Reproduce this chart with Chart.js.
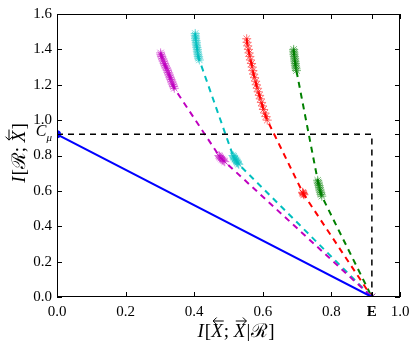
<!DOCTYPE html>
<html lang="en">
<head>
  <meta charset="UTF-8" />
  <title>I[R;X] vs I[X;X|R]</title>
  <style>
    body { margin: 0; background: #fff; }
    #wrap { width: 416px; height: 350px; }
  </style>
</head>
<body>
  <div id="wrap"><canvas id="chart"></canvas></div>

  <script src="https://cdn.jsdelivr.net/npm/chart.js"></script>
  <script>
    // special values
    const cMu = 0.92;
    const eVal = 0.918;

    // tick positions
    const xTicks = [0, 0.2, 0.4, 0.6, 0.8, eVal, 1.0];
    const yTicks = [0, 0.2, 0.4, 0.6, 0.8, cMu, 1.0, 1.2, 1.4, 1.6];

    // magenta series
    const magentaX = [0.302, 0.303, 0.305, 0.307, 0.309, 0.311, 0.313, 0.315, 0.317, 0.320, 0.322, 0.324, 0.326, 0.328, 0.330, 0.332, 0.334, 0.336, 0.338, 0.340, 0.342,
                      0.472, 0.474, 0.476, 0.478, 0.481, 0.483, 0.486, 0.489, 0.918];
    const magentaY = [1.38, 1.37, 1.36, 1.35, 1.34, 1.33, 1.32, 1.31, 1.30, 1.29, 1.28, 1.27, 1.26, 1.25, 1.24, 1.23, 1.22, 1.21, 1.20, 1.19, 1.18,
                      0.80, 0.795, 0.79, 0.785, 0.78, 0.775, 0.77, 0.765, 0];

    // cyan series
    const cyanX = [0.403, 0.403, 0.404, 0.404, 0.405, 0.406, 0.406, 0.407, 0.408, 0.409, 0.409, 0.410, 0.411, 0.412, 0.413, 0.415,
                   0.513, 0.515, 0.516, 0.518, 0.519, 0.521, 0.523, 0.524, 0.526, 0.528, 0.530, 0.918];
    const cyanY = [1.49, 1.48, 1.47, 1.46, 1.45, 1.44, 1.43, 1.42, 1.41, 1.40, 1.39, 1.38, 1.37, 1.36, 1.35, 1.34,
                   0.80, 0.795, 0.79, 0.785, 0.78, 0.775, 0.77, 0.765, 0.76, 0.755, 0.75, 0];

    // red series
    const redX = [0.553, 0.554, 0.556, 0.558, 0.560, 0.562, 0.564, 0.567, 0.569, 0.571, 0.573, 0.576, 0.579, 0.581, 0.584, 0.587, 0.590, 0.593, 0.596, 0.599, 0.602, 0.606, 0.609, 0.613,
                  0.716, 0.717, 0.718, 0.719, 0.720, 0.918];
    const redY = [1.46, 1.44, 1.42, 1.40, 1.38, 1.36, 1.34, 1.32, 1.30, 1.28, 1.26, 1.24, 1.22, 1.20, 1.18, 1.16, 1.14, 1.12, 1.10, 1.08, 1.06, 1.04, 1.02, 1.00,
                  0.592, 0.588, 0.586, 0.582, 0.578, 0];

    // green series
    const greenX = [0.690, 0.690, 0.691, 0.691, 0.692, 0.693, 0.693, 0.694, 0.695, 0.695, 0.696, 0.697, 0.698,
                    0.760, 0.761, 0.762, 0.764, 0.765, 0.766, 0.767, 0.769, 0.770, 0.772, 0.918];
    const greenY = [1.40, 1.39, 1.38, 1.37, 1.36, 1.35, 1.34, 1.33, 1.32, 1.31, 1.30, 1.29, 1.28,
                    0.66, 0.65, 0.64, 0.63, 0.62, 0.61, 0.60, 0.59, 0.58, 0.57, 0];

    // bound lines
    const boundX = [0, eVal];
    const boundY = [cMu, 0];
    const boxX = [0, eVal, eVal];
    const boxY = [cMu, cMu, 0];

    const pts = (xs, ys) => xs.map((x, i) => ({ x: x, y: ys[i] }));

    function series(xs, ys, color, fade) {
      return {
        data: pts(xs, ys),
        showLine: true,
        borderColor: color,
        borderWidth: 2,
        borderDash: [6, 5],
        pointStyle: 'star',
        pointRadius: 4.5,
        pointBorderWidth: 1,
        pointBorderColor: fade,
        pointBackgroundColor: fade
      };
    }

    const serif = 'Liberation Serif, DejaVu Serif, serif';

    // draws a run of text pieces centred at (0,0); arrow: 'l' or 'r' over the piece
    function drawPieces(ctx, pieces) {
      let total = 0;
      pieces.forEach(p => { ctx.font = p.f; p.w = ctx.measureText(p.t).width + (p.gap || 0); total += p.w; });
      let x = -total / 2;
      ctx.textBaseline = 'alphabetic';
      ctx.textAlign = 'left';
      pieces.forEach(p => {
        ctx.font = p.f;
        ctx.fillText(p.t, x, 6);
        if (p.arrow) {
          const y0 = -10, x0 = x + 2, x1 = x + p.w;
          ctx.beginPath();
          ctx.moveTo(x0, y0); ctx.lineTo(x1, y0);
          if (p.arrow === 'l') {
            ctx.moveTo(x0 + 3.5, y0 - 3.5); ctx.lineTo(x0, y0); ctx.lineTo(x0 + 3.5, y0 + 3.5);
          } else {
            ctx.moveTo(x1 - 3.5, y0 - 3.5); ctx.lineTo(x1, y0); ctx.lineTo(x1 - 3.5, y0 + 3.5);
          }
          ctx.stroke();
        }
        x += p.w;
      });
    }

    const it = 'italic 19px ' + serif;
    const up = '19px ' + serif;
    const xTitle = [
      { t: 'I', f: it, gap: 1 }, { t: '[', f: up }, { t: 'X', f: it, arrow: 'l', gap: 1 }, { t: '; ', f: up },
      { t: 'X', f: it, arrow: 'r', gap: 1 }, { t: '|', f: up, gap: 1 }, { t: '\u211b', f: up }, { t: ']', f: up }
    ];
    const yTitle = [
      { t: 'I', f: it, gap: 1 }, { t: '[', f: up }, { t: '\u211b', f: up }, { t: '; ', f: up },
      { t: 'X', f: it, arrow: 'l', gap: 1 }, { t: ']', f: up }
    ];

    // frame, inward ticks, C_mu label and axis titles
    const framePlugin = {
      id: 'frame',
      afterDatasetsDraw(chart) {
        const { ctx, chartArea: a, scales: { x, y } } = chart;
        const len = 5;
        ctx.save();
        ctx.lineWidth = 1;
        ctx.strokeStyle = '#000';
        ctx.beginPath();
        xTicks.forEach(v => {
          const px = Math.round(x.getPixelForValue(v)) + 0.5;
          ctx.moveTo(px, a.bottom); ctx.lineTo(px, a.bottom - len);
          ctx.moveTo(px, a.top); ctx.lineTo(px, a.top + len);
        });
        yTicks.forEach(v => {
          const py = Math.round(y.getPixelForValue(v)) + 0.5;
          ctx.moveTo(a.left, py); ctx.lineTo(a.left + len, py);
          ctx.moveTo(a.right, py); ctx.lineTo(a.right - len, py);
        });
        ctx.stroke();
        ctx.strokeRect(a.left + 0.5, a.top + 0.5, a.right - a.left - 1, a.bottom - a.top - 1);

        // C_mu tick label
        const py = y.getPixelForValue(cMu);
        ctx.fillStyle = '#000';
        ctx.textBaseline = 'middle';
        ctx.textAlign = 'right';
        ctx.font = 'italic 11px ' + serif;
        ctx.fillText('\u03bc', a.left - 5, py + 4);
        const muW = ctx.measureText('\u03bc').width;
        ctx.font = 'italic 16px ' + serif;
        ctx.fillText('C', a.left - 5 - muW, py - 2);

        // axis titles
        ctx.lineWidth = 1;
        ctx.save();
        ctx.translate(236, 331);
        drawPieces(ctx, xTitle);
        ctx.restore();
        ctx.save();
        ctx.translate(19, 153);
        ctx.rotate(-Math.PI / 2);
        drawPieces(ctx, yTitle);
        ctx.restore();
        ctx.restore();
      }
    };

    new Chart(document.getElementById('chart'), {
      type: 'scatter',
      data: {
        datasets: [
          {
            data: pts(boundX, boundY),
            showLine: true,
            borderColor: '#0000ff',
            borderWidth: 2,
            pointRadius: [3, 0],
            pointBackgroundColor: '#0000ff',
            pointBorderColor: '#0000ff'
          },
          {
            data: pts(boxX, boxY),
            showLine: true,
            borderColor: '#000',
            borderWidth: 1.5,
            borderDash: [6, 5],
            pointRadius: 0
          },
          series(magentaX, magentaY, '#bf00bf', 'rgba(191,0,191,0.55)'),
          series(cyanX, cyanY, '#00bfbf', 'rgba(0,191,191,0.55)'),
          series(redX, redY, '#ff0000', 'rgba(255,0,0,0.55)'),
          series(greenX, greenY, '#008000', 'rgba(0,128,0,0.55)')
        ]
      },
      options: {
        responsive: true,
        maintainAspectRatio: false,
        animation: false,
        layout: { padding: { top: 14, right: 16, left: 0, bottom: 0 } },
        plugins: { legend: { display: false }, tooltip: { enabled: false } },
        scales: {
          x: {
            type: 'linear',
            min: 0,
            max: 1,
            afterBuildTicks: s => { s.ticks = xTicks.map(v => ({ value: v })); },
            afterFit: s => { s.height = 53; },
            grid: { display: false, drawTicks: false },
            border: { display: false },
            ticks: {
              padding: 6,
              color: '#000',
              maxRotation: 0,
              autoSkip: false,
              font: ctx => ({ family: serif, size: 15, weight: ctx.tick && ctx.tick.value === eVal ? 'bold' : 'normal' }),
              callback: v => v === eVal ? 'E' : v.toFixed(1)
            }
          },
          y: {
            type: 'linear',
            min: 0,
            max: 1.6,
            afterBuildTicks: s => { s.ticks = yTicks.map(v => ({ value: v })); },
            afterFit: s => { s.width = 57; },
            grid: { display: false, drawTicks: false },
            border: { display: false },
            ticks: {
              padding: 5,
              color: '#000',
              autoSkip: false,
              font: { family: serif, size: 15 },
              callback: v => v === cMu ? '' : v.toFixed(1)
            }
          }
        }
      },
      plugins: [framePlugin]
    });
  </script>
</body>
</html>
